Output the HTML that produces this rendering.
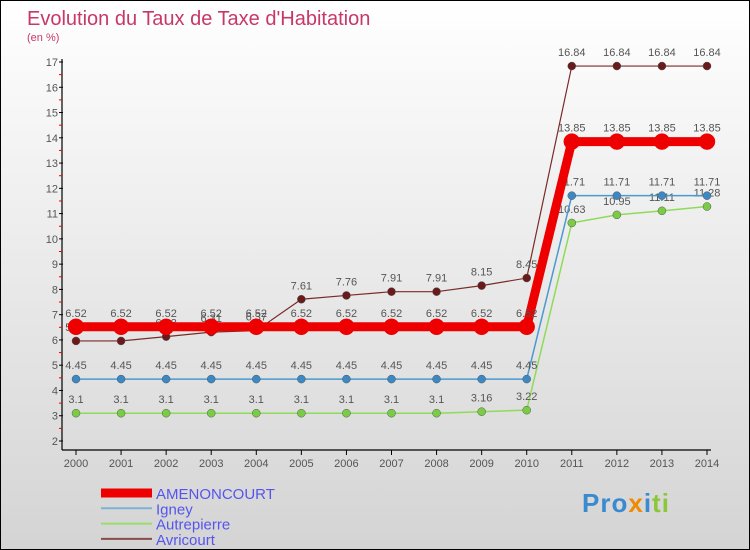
<!DOCTYPE html>
<html><head><meta charset="utf-8"><style>
body{margin:0}
#c{width:748px;height:548px;border:1px solid #000;background:linear-gradient(#fff,#f2f2f2 30%,#d4d4d4);position:relative;overflow:hidden;font-family:"Liberation Sans",sans-serif}
svg text{font-family:"Liberation Sans",sans-serif}
</style></head><body>
<div id="c">
<svg id="s" width="748" height="548" xmlns="http://www.w3.org/2000/svg">
<text x="26" y="24" font-size="20" fill="#c8376a">Evolution du Taux de Taxe d'Habitation</text>
<text x="26" y="40" font-size="11" fill="#c8376a">(en %)</text>
<g id="axes"></g><g id="series"></g><g id="legend"></g>
</svg></div>
<script>
const years=[2000,2001,2002,2003,2004,2005,2006,2007,2008,2009,2010,2011,2012,2013,2014];
const amenoncourt=[6.52,6.52,6.52,6.52,6.52,6.52,6.52,6.52,6.52,6.52,6.52,13.85,13.85,13.85,13.85];
const igney=[4.45,4.45,4.45,4.45,4.45,4.45,4.45,4.45,4.45,4.45,4.45,11.71,11.71,11.71,11.71];
const autrepierre=[3.1,3.1,3.1,3.1,3.1,3.1,3.1,3.1,3.1,3.16,3.22,10.63,10.95,11.11,11.28];
const avricourt=[5.96,5.96,6.13,6.31,6.37,7.61,7.76,7.91,7.91,8.15,8.45,16.84,16.84,16.84,16.84];
const yTicks=[2,3,4,5,6,7,8,9,10,11,12,13,14,15,16,17];
const seriesNames=["AMENONCOURT","Igney","Autrepierre","Avricourt"];
const NS="http://www.w3.org/2000/svg";
const X=i=>75+i*(706-75)/(years.length-1);
const Y=v=>440-(v-2)*(379/15);
function mk(tag,attrs,parent,text){const e=document.createElementNS(NS,tag);for(const k in attrs)e.setAttribute(k,attrs[k]);if(text!==undefined)e.textContent=text;parent.appendChild(e);return e;}
const ax=document.getElementById('axes');
let yl=mk('line',{x1:61,y1:58,x2:61,y2:449,stroke:'#000','stroke-width':1.2},ax);


let xl=mk('line',{x1:61,y1:449,x2:710,y2:449,stroke:'#000','stroke-width':1.2},ax);


yTicks.forEach(t=>{
 mk('line',{x1:58,y1:Y(t),x2:62,y2:Y(t),stroke:'#000'},ax);
 if(t<17)mk('line',{x1:58,y1:Y(t+0.5),x2:61,y2:Y(t+0.5),stroke:'#e00'},ax);
 const tx=mk('text',{x:57,y:Y(t)+4,'font-size':11,fill:'#555','text-anchor':'end'},ax,t);
 
 
});
years.forEach((y,i)=>{
 mk('line',{x1:X(i),y1:449,x2:X(i),y2:454,stroke:'#000'},ax);
 const tx=mk('text',{x:X(i),y:466,'font-size':11,fill:'#555','text-anchor':'middle'},ax,y);
 
 
});
const sg=document.getElementById('series');
const defs=[[avricourt,'#7a2a2a','#6a1a1a',1.2,4],[autrepierre,'#8edb5a','#7acc44',1.5,4],[igney,'#4a9ad0','#3a88c4',1.5,4],[amenoncourt,'#ee0000','#ee0000',9,8]];
const names=['series-avricourt','series-autrepierre','series-igney','series-amenoncourt'];
defs.forEach((d,k)=>{
 const g=mk('g',{},sg);
 
 
 const pts=d[0].map((v,i)=>X(i)+','+Y(v)).join(' ');
 mk('polyline',{points:pts,fill:'none',stroke:d[1],'stroke-width':d[3]},g);
 d[0].forEach((v,i)=>{
  const c=mk('circle',{cx:X(i),cy:Y(v),r:d[4],fill:d[2],stroke:d[3]>5?'#ee0000':'#555','stroke-width':0.5},g);
  
  
  mk('text',{x:X(i),y:Y(v)-10,'font-size':11,fill:'#555','text-anchor':'middle'},g,v);
 });
});
const lg=document.getElementById('legend');
const lc=[['#ee0000',9],['#7ab3d4',2],['#9ade6a',2],['#8a4a4a',2]];
seriesNames.forEach((n,i)=>{
 const y=492+i*15.3;
 const g=mk('g',{},lg);
 
 
 mk('line',{x1:100,y1:y,x2:151,y2:y,stroke:lc[i][0],'stroke-width':lc[i][1]},g);
 mk('text',{x:155,y:y+6,'font-size':15,fill:'#5555ee'},g,n);
});
</script>
<div style="position:absolute;left:582px;top:488px;font:bold 26px 'Liberation Sans',sans-serif;letter-spacing:1px"><span style="color:#3a8ad0">Pro</span><span style="color:#f08a00">x</span><span style="color:#3a8ad0">i</span><span style="color:#8ac83a">ti</span></div>
</body></html>
